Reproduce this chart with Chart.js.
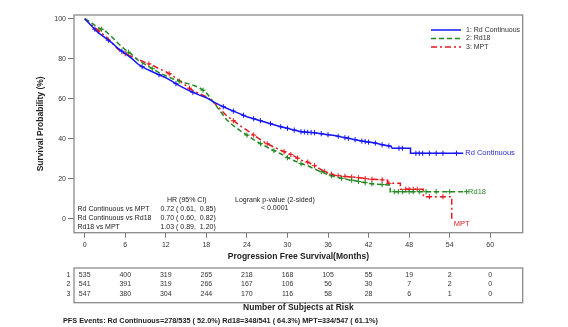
<!DOCTYPE html>
<html>
<head>
<meta charset="utf-8">
<script src="https://cdn.jsdelivr.net/npm/chart.js@4.4.1/dist/chart.umd.min.js"></script>
<style>
  html, body { margin: 0; padding: 0; background: #fff; }
  #km { display: block; }
</style>
</head>
<body>
<canvas id="km" width="568" height="327"></canvas>
<script>
// axis ticks
const xTicks = [0, 6, 12, 18, 24, 30, 36, 42, 48, 54, 60];
const yTicks = [0, 20, 40, 60, 80, 100];

// Kaplan-Meier estimates (months, % progression free); repeated months are the late steps
const rdMonths = [0, 1, 2, 3, 4, 5, 6, 7, 8, 9, 10, 11, 12, 13, 14, 15, 16, 17, 18, 19, 20, 21, 22, 23, 24, 25, 26, 27, 28, 29, 30, 31, 32, 33, 34, 35, 36, 37, 38, 39, 40, 41, 42, 43, 44, 45.3, 45.5, 48.2, 48.2, 56];
const rdSurv = [100, 96.5, 93, 90.5, 88, 85, 82.5, 80, 77, 75, 73.5, 72, 70.5, 68.5, 66.5, 64.8, 63.2, 61.8, 60.5, 58.5, 56.8, 55.2, 53.8, 52.4, 51, 50, 49, 48, 47, 46, 45.2, 44.3, 43.5, 43.2, 43, 42.5, 42, 41.6, 40.8, 40.2, 39.5, 38.8, 38.3, 37.8, 37, 36.2, 35.2, 35.2, 32.7, 32.7];

const rd18Months = [0, 1, 2, 3, 4, 5, 6, 7, 8, 9, 10, 11, 12, 13, 14, 15, 16, 17, 18, 19, 20, 21, 22, 23, 24, 25, 26, 27, 28, 29, 30, 31, 32, 33, 34, 35, 36, 37, 38, 39, 40, 41, 42, 43, 45.2, 45.2, 56.5];
const rd18Surv = [100, 98, 95.5, 94, 91, 87.5, 84.5, 82, 79, 77, 75, 73, 71.5, 70, 68.8, 67.8, 66.8, 65.5, 63, 58.5, 54, 49.5, 46.5, 44, 41.8, 39.5, 37.5, 35.8, 34, 32.5, 30.5, 29, 27.5, 26.5, 24.8, 23.5, 22, 21, 20.2, 19.5, 19, 18.3, 17.7, 17.2, 16.9, 13.5, 13.5];

const mptMonths = [0, 1, 2, 3, 4, 5, 6, 7, 8, 9, 10, 11, 12, 13, 14, 15, 16, 17, 18, 19, 20, 21, 22, 23, 24, 25, 26, 27, 28, 29, 30, 31, 32, 33, 34, 35, 36, 37, 38, 39, 40, 41, 42, 44.8, 44.8, 46.7, 46.7, 50.1, 50.1, 54.3, 54.3];
const mptSurv = [100, 97, 94, 91.5, 88, 84.5, 82.5, 81, 79.5, 78, 76.8, 75, 73.5, 71.5, 69, 66.5, 64, 62.5, 61, 58.5, 55, 51.5, 49, 46.5, 44.3, 41.8, 39.5, 37.5, 35.8, 34.2, 32.8, 31.3, 29.3, 28.3, 26.5, 24.5, 22.8, 21.7, 21.3, 21, 20.7, 20.3, 19.8, 19.3, 17.7, 17.7, 14.7, 14.7, 11, 11, 0];

// censoring times
const rdCensor = [1.5, 3.5, 5.5, 8.5, 11, 13.5, 16, 20.5, 22, 23.5, 25, 26, 27.5, 29, 30, 31, 32, 32.5, 33, 33.5, 34, 35, 36, 37.5, 38.5, 39, 40, 41, 41.5, 42, 43, 44, 45, 46.5, 47, 49, 49.5, 50, 51, 52, 53, 55];
const rd18Censor = [2.5, 6.5, 10, 14, 17.5, 24, 26, 28, 30, 32, 35, 36.5, 38, 39.5, 40.5, 41.5, 42.5, 44, 45.8, 46.4, 47, 48, 48.6, 49.5, 50.5, 52, 54, 56.5];
const mptCensor = [2, 6, 9.5, 12.5, 15.5, 22, 25, 27, 29.5, 30.5, 31.5, 33, 34, 35.5, 36.5, 37.5, 38.5, 39.5, 40.5, 41.5, 42.5, 44, 45, 47.5, 48, 48.6, 49.2, 51, 53];

// numbers at risk
const riskRd = [535, 400, 319, 265, 218, 168, 105, 55, 19, 2, 0];
const riskRd18 = [541, 391, 319, 266, 167, 106, 56, 30, 7, 2, 0];
const riskMpt = [547, 380, 304, 244, 170, 116, 58, 28, 6, 1, 0];

const hrLabels = ['Rd Continuous vs MPT', 'Rd Continuous vs Rd18', 'Rd18 vs MPT'];
const hrValues = ['0.72 ( 0.61,  0.85)', '0.70 ( 0.60,  0.82)', '1.03 ( 0.89,  1.20)'];

const BLUE = '#1616f5', GREEN = '#21891f', RED = '#e3191e';
const FONT = "'Liberation Sans', Arial, sans-serif";

function curve(months, surv) {
    return months.map((m, i) => ({ x: m, y: surv[i] }));
}

// put each censor tick on the drawn curve
function censorPoints(times, months, surv) {
    return times.map(t => {
        let v = surv[surv.length - 1];
        for (let i = 1; i < months.length; i++) {
            if (t <= months[i]) {
                const m0 = months[i - 1], m1 = months[i];
                v = m1 === m0 ? surv[i] : surv[i - 1] + (surv[i] - surv[i - 1]) * (t - m0) / (m1 - m0);
                break;
            }
        }
        return { x: t, y: v };
    });
}

const series = [
    { label: '1: Rd Continuous', color: BLUE, dash: [], m: rdMonths, s: rdSurv, c: rdCensor },
    { label: '2: Rd18', color: GREEN, dash: [5, 3], m: rd18Months, s: rd18Surv, c: rd18Censor },
    { label: '3: MPT', color: RED, dash: [6, 3, 2, 3], m: mptMonths, s: mptSurv, c: mptCensor }
];

const datasets = [];
series.forEach(sr => {
    datasets.push({
        label: sr.label,
        data: curve(sr.m, sr.s),
        borderColor: sr.color,
        borderWidth: 1.5,
        borderDash: sr.dash,
        pointRadius: 0,
        fill: false
    });
});
series.forEach(sr => {
    datasets.push({
        label: sr.label + ' censored',
        data: censorPoints(sr.c, sr.m, sr.s),
        showLine: false,
        pointStyle: 'cross',
        pointRadius: 2.6,
        borderColor: sr.color,
        borderWidth: 1,
        backgroundColor: sr.color
    });
});

const annotations = {
    id: 'annotations',
    afterDraw(chart) {
        const { ctx, chartArea: a, scales: { x, y } } = chart;
        ctx.save();

        // plot frame
        ctx.strokeStyle = '#8a8a8a';
        ctx.lineWidth = 1.3;
        ctx.strokeRect(a.left, a.top, a.right - a.left, a.bottom - a.top);

        // legend
        ctx.font = '7px ' + FONT;
        ctx.textBaseline = 'middle';
        series.forEach((sr, i) => {
            const ly = 30 + i * 8.5;
            ctx.strokeStyle = sr.color;
            ctx.lineWidth = 1.5;
            ctx.setLineDash(sr.dash);
            ctx.beginPath();
            ctx.moveTo(431, ly);
            ctx.lineTo(461, ly);
            ctx.stroke();
            ctx.setLineDash([]);
            ctx.fillStyle = '#333';
            ctx.textAlign = 'left';
            ctx.fillText(sr.label, 466, ly);
        });

        // labels at curve ends
        ctx.font = '7.5px ' + FONT;
        ctx.fillStyle = '#2a2ad6';
        ctx.fillText('Rd Continuous', x.getPixelForValue(56) + 2, y.getPixelForValue(32.7));
        ctx.fillStyle = '#2f8a2f';
        ctx.fillText('Rd18', x.getPixelForValue(56.5) + 1.5, y.getPixelForValue(13.5));
        ctx.fillStyle = '#d42020';
        ctx.fillText('MPT', x.getPixelForValue(54.3) + 2, y.getPixelForValue(0) + 5);

        // hazard ratios and logrank test
        ctx.fillStyle = '#222';
        ctx.font = '7px ' + FONT;
        ctx.fillText('HR (95% CI)', 167, 200);
        hrLabels.forEach((lab, i) => {
            ctx.fillText(lab, 77.5, 209.2 + i * 9);
            ctx.fillText(hrValues[i], 160.5, 209.2 + i * 9);
        });
        ctx.fillText('Logrank p-value (2-sided)', 235, 200);
        ctx.fillText('< 0.0001', 261, 208.5);

        // axis titles
        ctx.font = 'bold 8.5px ' + FONT;
        ctx.textAlign = 'center';
        ctx.fillText('Progression Free Survival(Months)', (a.left + a.right) / 2, 257);
        ctx.save();
        ctx.translate(41, (a.top + a.bottom) / 2);
        ctx.rotate(-Math.PI / 2);
        ctx.fillText('Survival Probability (%)', 0, 0);
        ctx.restore();

        // numbers at risk table
        const top = 268, bottom = 302.7;
        ctx.strokeStyle = '#8a8a8a';
        ctx.lineWidth = 1.3;
        ctx.strokeRect(a.left, top, a.right - a.left, bottom - top);
        ctx.font = '7px ' + FONT;
        ctx.fillStyle = '#333';
        [riskRd, riskRd18, riskMpt].forEach((row, r) => {
            const ry = 275 + r * 9.3;
            ctx.textAlign = 'right';
            ctx.fillText(String(r + 1), 70.5, ry);
            ctx.textAlign = 'center';
            row.forEach((n, i) => {
                ctx.fillText(String(n), x.getPixelForValue(xTicks[i]), ry);
            });
        });
        ctx.fillStyle = '#222';
        ctx.font = 'bold 8.5px ' + FONT;
        ctx.fillText('Number of Subjects at Risk', (a.left + a.right) / 2, 307.5);

        ctx.font = 'bold 7.3px ' + FONT;
        ctx.textAlign = 'left';
        ctx.fillText('PFS Events: Rd Continuous=278/535 ( 52.0%) Rd18=348/541 ( 64.3%) MPT=334/547 ( 61.1%)', 63, 321);

        ctx.restore();
    }
};

new Chart(document.getElementById('km'), {
    type: 'line',
    data: { datasets: datasets },
    options: {
        responsive: false,
        animation: false,
        devicePixelRatio: 1,
        layout: { padding: { top: 15, right: 45.3, bottom: 0, left: 0 } },
        plugins: {
            legend: { display: false },
            tooltip: { enabled: false }
        },
        scales: {
            x: {
                type: 'linear',
                min: -1.58,
                max: 64.8,
                afterBuildTicks: s => { s.ticks = xTicks.map(v => ({ value: v })); },
                afterFit: s => { s.height = 327 - 232.7; },
                grid: { drawOnChartArea: false, tickLength: 5, color: '#777' },
                border: { display: false },
                ticks: { font: { family: FONT, size: 7 }, color: '#333', padding: 3, maxRotation: 0 }
            },
            y: {
                type: 'linear',
                min: -7,
                max: 101.85,
                afterBuildTicks: s => { s.ticks = yTicks.map(v => ({ value: v })); },
                afterFit: s => { s.width = 74; },
                grid: { drawOnChartArea: false, tickLength: 6, color: '#777' },
                border: { display: false },
                ticks: { font: { family: FONT, size: 7 }, color: '#333', padding: 2 }
            }
        }
    },
    plugins: [annotations]
});
</script>
</body>
</html>
